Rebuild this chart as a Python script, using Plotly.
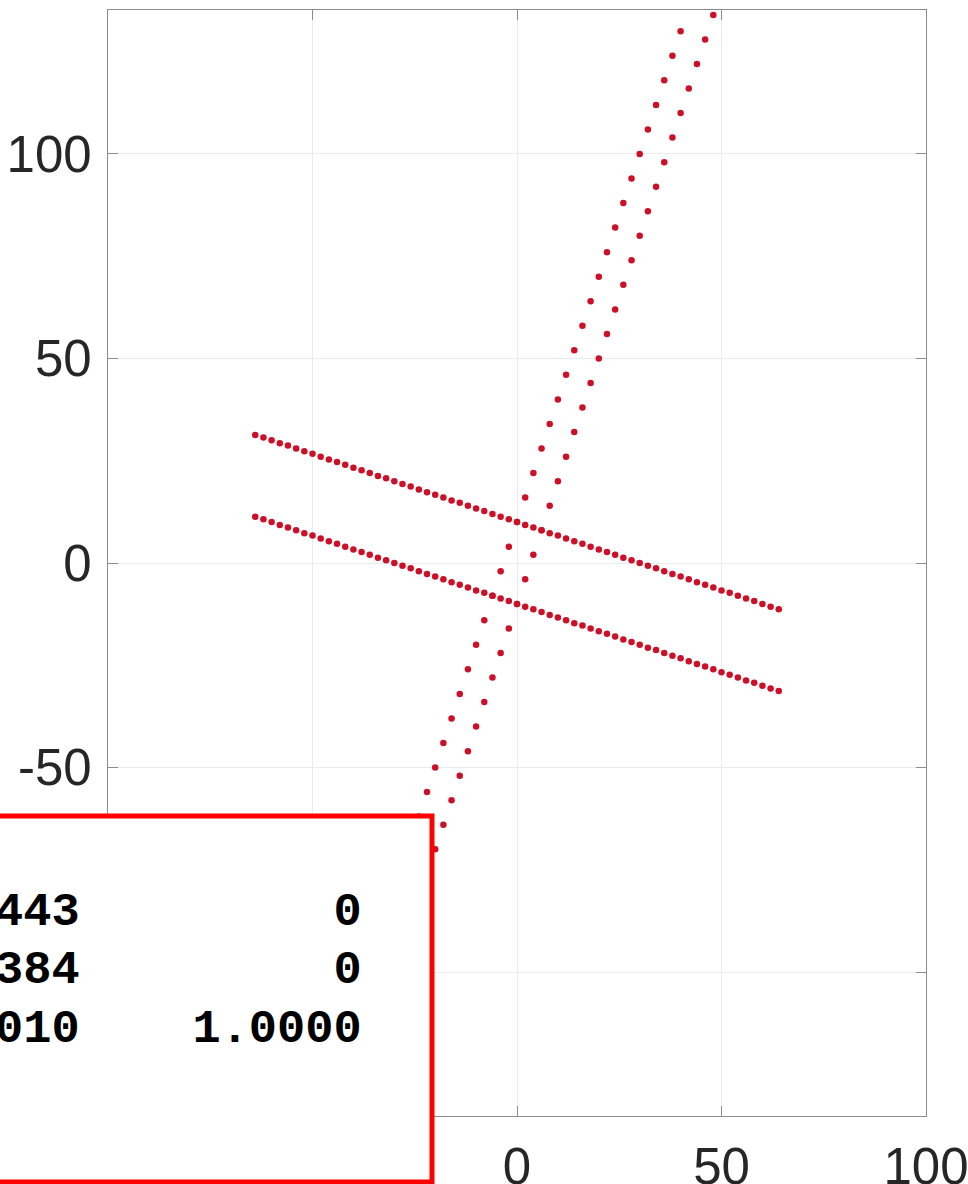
import plotly.graph_objects as go

# x positions shared by the two shallow lines (step 2)
x_shallow = [-64, -62, -60, -58, -56, -54, -52, -50, -48, -46, -44, -42, -40, -38, -36, -34,
             -32, -30, -28, -26, -24, -22, -20, -18, -16, -14, -12, -10, -8, -6, -4, -2,
             0, 2, 4, 6, 8, 10, 12, 14, 16, 18, 20, 22, 24, 26, 28, 30,
             32, 34, 36, 38, 40, 42, 44, 46, 48, 50, 52, 54, 56, 58, 60, 62, 64]

y_shallow_upper = [31.3, 30.7, 30.0, 29.3, 28.7, 28.0, 27.3, 26.7, 26.0, 25.3, 24.7, 24.0, 23.3, 22.7,
                   22.0, 21.3, 20.7, 20.0, 19.3, 18.7, 18.0, 17.3, 16.7, 16.0, 15.3, 14.7, 14.0, 13.3,
                   12.7, 12.0, 11.3, 10.7, 10.0, 9.3, 8.7, 8.0, 7.3, 6.7, 6.0, 5.3, 4.7, 4.0, 3.3, 2.7,
                   2.0, 1.3, 0.7, 0.0, -0.7, -1.3, -2.0, -2.7, -3.3, -4.0, -4.7, -5.3, -6.0, -6.7,
                   -7.3, -8.0, -8.7, -9.3, -10.0, -10.7, -11.3]

y_shallow_lower = [11.3, 10.7, 10.0, 9.3, 8.7, 8.0, 7.3, 6.7, 6.0, 5.3, 4.7, 4.0, 3.3, 2.7, 2.0, 1.3,
                   0.7, 0.0, -0.7, -1.3, -2.0, -2.7, -3.3, -4.0, -4.7, -5.3, -6.0, -6.7, -7.3, -8.0,
                   -8.7, -9.3, -10.0, -10.7, -11.3, -12.0, -12.7, -13.3, -14.0, -14.7, -15.3, -16.0,
                   -16.7, -17.3, -18.0, -18.7, -19.3, -20.0, -20.7, -21.3, -22.0, -22.7, -23.3, -24.0,
                   -24.7, -25.3, -26.0, -26.7, -27.3, -28.0, -28.7, -29.3, -30.0, -30.7, -31.3]

# steep lines
x_steep_left = [-48, -46, -44, -42, -40, -38, -36, -34, -32, -30, -28, -26, -24, -22, -20, -18,
                -16, -14, -12, -10, -8, -6, -4, -2, 0, 2, 4, 6, 8, 10, 12, 14, 16, 18, 20, 22,
                24, 26, 28, 30, 32, 34, 36, 38, 40]
y_steep_left = [-134, -128, -122, -116, -110, -104, -98, -92, -86, -80, -74, -68, -62, -56, -50,
                -44, -38, -32, -26, -20, -14, -8, -2, 4, 10, 16, 22, 28, 34, 40, 46, 52, 58, 64,
                70, 76, 82, 88, 94, 100, 106, 112, 118, 124, 130]

x_steep_right = [-40, -38, -36, -34, -32, -30, -28, -26, -24, -22, -20, -18, -16, -14, -12, -10,
                 -8, -6, -4, -2, 0, 2, 4, 6, 8, 10, 12, 14, 16, 18, 20, 22, 24, 26, 28, 30,
                 32, 34, 36, 38, 40, 42, 44, 46, 48]
y_steep_right = [-130, -124, -118, -112, -106, -100, -94, -88, -82, -76, -70, -64, -58, -52, -46,
                 -40, -34, -28, -22, -16, -10, -4, 2, 8, 14, 20, 26, 32, 38, 44, 50, 56, 62, 68,
                 74, 80, 86, 92, 98, 104, 110, 116, 122, 128, 134]

# tick positions; labels lying under the overlay box are left blank
x_tick_vals = [-100, -50, 0, 50, 100]
x_tick_text = ["", "", "0", "50", "100"]
y_tick_vals = [-100, -50, 0, 50, 100]
y_tick_text = ["", "-50", "0", "50", "100"]

# matrix printout shown in the overlay box
matrix_rows = ["443         0", "384         0", "010    1.0000"]

W, H = 968, 1184
ML, MR, MT, MB = 108, 42, 10, 68
PW, PH = W - ML - MR, H - MT - MB


def px_x(px):
    return (px - ML) / PW


def px_y(py):
    return (H - MB - py) / PH


dot = dict(color="#cc1028", size=6.5, line=dict(width=0))

fig = go.Figure()
for xs, ys in [(x_shallow, y_shallow_upper), (x_shallow, y_shallow_lower),
               (x_steep_left, y_steep_left), (x_steep_right, y_steep_right)]:
    fig.add_trace(go.Scatter(x=xs, y=ys, mode="markers", marker=dot,
                             showlegend=False, hoverinfo="skip", cliponaxis=True))

axis_common = dict(
    automargin=False, ticklabeloverflow="allow",
    showgrid=True, gridcolor="#ebebeb", gridwidth=1,
    zeroline=False, showline=True, linecolor="#8c8c8c", linewidth=1.3,
    mirror="ticks", ticks="inside", ticklen=10, tickcolor="#8c8c8c", tickwidth=1.3,
    tickfont=dict(family="Liberation Sans, Arial, sans-serif", size=51, color="#262626"),
)

fig.update_layout(
    width=W, height=H,
    margin=dict(l=ML, r=MR, t=MT, b=MB, pad=0, autoexpand=False),
    paper_bgcolor="white", plot_bgcolor="white",
    xaxis=dict(range=[-100, 100], tickvals=x_tick_vals, ticktext=x_tick_text,
               ticklabelstandoff=6, **axis_common),
    yaxis=dict(range=[-135.2, 135.2], tickvals=y_tick_vals, ticktext=y_tick_text,
               ticklabelstandoff=5, **axis_common),
)

# overlay box
fig.add_shape(type="rect", xref="paper", yref="paper",
              x0=px_x(-20), x1=px_x(432), y0=px_y(1182), y1=px_y(816),
              line=dict(color="#ff0000", width=5), fillcolor="white", layer="above")

for row, py in zip(matrix_rows, [912, 970, 1029]):
    fig.add_annotation(xref="paper", yref="paper", x=px_x(364), y=px_y(py),
                       xanchor="right", yanchor="middle", showarrow=False,
                       text="<b>" + row.replace(" ", "&nbsp;") + "</b>",
                       font=dict(family="Liberation Mono, Courier New, monospace",
                                 size=47, color="black"))

fig.write_html("out.html")
